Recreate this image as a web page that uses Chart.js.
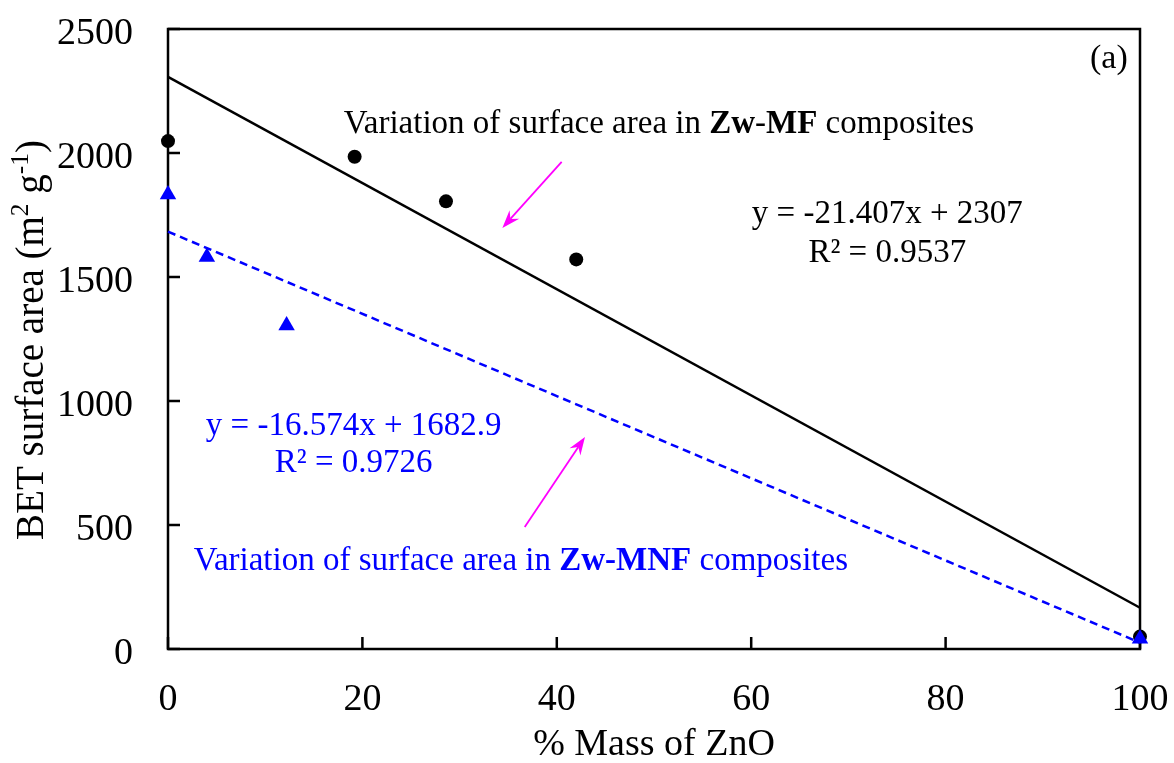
<!DOCTYPE html>
<html>
<head>
<meta charset="utf-8">
<script src="https://cdn.jsdelivr.net/npm/chart.js@4.4.1/dist/chart.umd.min.js"></script>
<style>
html,body{margin:0;padding:0;background:#fff;}
#wrap{width:1174px;height:763px;}
</style>
</head>
<body>
<div id="wrap"><canvas id="c" width="1174" height="763"></canvas></div>
<script>
// ---- data ----
const zwMF_x = [0, 19.2, 28.6, 42.0, 100];
const zwMF_y = [2048, 1985, 1805, 1571, 50];
const zwMNF_x = [0, 4.0, 12.2, 100];
const zwMNF_y = [1833, 1581, 1304, 41];
const trendMF = {slope: -21.407, intercept: 2307};
const trendMNF = {slope: -16.574, intercept: 1682.9};
const trendRange = [0, 100];
const xTicks = [0, 20, 40, 60, 80, 100];
const yTicks = [0, 500, 1000, 1500, 2000, 2500];
const xTitle = '% Mass of ZnO';
const eqMF = ['y = -21.407x + 2307', 'R² = 0.9537'];
const eqMNF = ['y = -16.574x + 1682.9', 'R² = 0.9726'];
const panelLabel = '(a)';

const FONT = '"Liberation Serif", "Times New Roman", serif';

const pts = (xs, ys) => xs.map((x, i) => ({x, y: ys[i]}));
const trendPts = t => trendRange.map(x => ({x, y: t.slope * x + t.intercept}));

function richText(ctx, parts, x, y, align) {
  let total = 0;
  const meas = parts.map(p => {
    const size = p.sup ? p.size * 0.65 : p.size;
    ctx.font = (p.bold ? 'bold ' : '') + size + 'px ' + FONT;
    const w = ctx.measureText(p.t).width;
    total += w;
    return {p, size, w};
  });
  let cx = align === 'center' ? x - total / 2 : (align === 'right' ? x - total : x);
  ctx.textAlign = 'left';
  ctx.textBaseline = 'alphabetic';
  meas.forEach(m => {
    ctx.font = (m.p.bold ? 'bold ' : '') + m.size + 'px ' + FONT;
    ctx.fillText(m.p.t, cx, y - (m.p.sup ? m.p.size * 0.38 : 0));
    cx += m.w;
  });
  return total;
}

function arrow(ctx, x1, y1, x2, y2, color) {
  ctx.save();
  ctx.strokeStyle = color; ctx.fillStyle = color; ctx.lineWidth = 1.8;
  const a = Math.atan2(y2 - y1, x2 - x1);
  const L = 18, W = 6.5, back = 12;
  ctx.beginPath(); ctx.moveTo(x1, y1);
  ctx.lineTo(x2 - Math.cos(a) * back, y2 - Math.sin(a) * back); ctx.stroke();
  ctx.beginPath();
  ctx.moveTo(x2, y2);
  ctx.lineTo(x2 - Math.cos(a) * L - Math.sin(a) * W, y2 - Math.sin(a) * L + Math.cos(a) * W);
  ctx.lineTo(x2 - Math.cos(a) * back, y2 - Math.sin(a) * back);
  ctx.lineTo(x2 - Math.cos(a) * L + Math.sin(a) * W, y2 - Math.sin(a) * L - Math.cos(a) * W);
  ctx.closePath(); ctx.fill();
  ctx.restore();
}

const decor = {
  id: 'decor',
  beforeDatasetsDraw(chart) {
    const {ctx, chartArea: a, scales: {x, y}} = chart;
    ctx.save();
    ctx.strokeStyle = '#000';
    ctx.lineWidth = 2.5;
    ctx.strokeRect(a.left, a.top, a.right - a.left, a.bottom - a.top);
    ctx.beginPath();
    yTicks.forEach(v => { const py = y.getPixelForValue(v); ctx.moveTo(a.left, py); ctx.lineTo(a.left + 12, py); });
    xTicks.forEach(v => { const px = x.getPixelForValue(v); ctx.moveTo(px, a.bottom); ctx.lineTo(px, a.bottom - 12); });
    ctx.stroke();
    // tick labels
    ctx.fillStyle = '#000';
    ctx.font = '38px ' + FONT;
    ctx.textBaseline = 'alphabetic';
    ctx.textAlign = 'right';
    yTicks.forEach(v => ctx.fillText(String(v), a.left - 35, y.getPixelForValue(v) + 15));
    ctx.textAlign = 'center';
    xTicks.forEach(v => ctx.fillText(String(v), x.getPixelForValue(v), a.bottom + 61));
    ctx.restore();
  },
  afterDatasetsDraw(chart) {
    const {ctx, chartArea: a, scales: {x, y}} = chart;
    const X = v => x.getPixelForValue(v), Y = v => y.getPixelForValue(v);
    ctx.save();
    // axis titles
    ctx.fillStyle = '#000';
    ctx.font = '38px ' + FONT;
    ctx.textAlign = 'center'; ctx.textBaseline = 'alphabetic';
    ctx.fillText(xTitle, (a.left + a.right) / 2, 755);
    ctx.save();
    ctx.translate(43, 340);
    ctx.rotate(-Math.PI / 2);
    richText(ctx, [
      {t: 'BET surface area (m', size: 39},
      {t: '2', size: 39, sup: true},
      {t: ' g', size: 39},
      {t: '-1', size: 39, sup: true},
      {t: ')', size: 39}
    ], 0, 0, 'center');
    ctx.restore();

    // panel label
    ctx.fillStyle = '#000';
    richText(ctx, [{t: panelLabel, size: 34}], X(96.8), Y(2343), 'center');

    // MF annotation (black)
    richText(ctx, [
      {t: 'Variation of surface area in ', size: 33},
      {t: 'Zw', size: 33, bold: true},
      {t: '-', size: 33},
      {t: 'MF', size: 33, bold: true},
      {t: ' composites', size: 33}
    ], X(50.5), Y(2081), 'center');
    richText(ctx, [{t: eqMF[0], size: 33}], X(74.0), Y(1718), 'center');
    richText(ctx, [{t: eqMF[1], size: 33}], X(74.0), Y(1560), 'center');

    // MNF annotation (blue)
    ctx.fillStyle = '#0000FF';
    richText(ctx, [{t: eqMNF[0], size: 33}], X(19.1), Y(863), 'center');
    richText(ctx, [{t: eqMNF[1], size: 33}], X(19.1), Y(714), 'center');
    richText(ctx, [
      {t: 'Variation of surface area in ', size: 33},
      {t: 'Zw-MNF', size: 33, bold: true},
      {t: ' composites', size: 33}
    ], X(36.3), Y(319), 'center');

    // arrows
    arrow(ctx, X(40.5), Y(1964), X(34.4), Y(1698), '#FF00FF');
    arrow(ctx, X(36.7), Y(492), X(42.9), Y(855), '#FF00FF');
    ctx.restore();
  }
};

new Chart(document.getElementById('c'), {
  type: 'scatter',
  data: {
    datasets: [
      {
        label: 'Zw-MF trend', data: trendPts(trendMF), showLine: true,
        borderColor: '#000', borderWidth: 2.5, pointRadius: 0, fill: false, order: 3
      },
      {
        label: 'Zw-MNF trend', data: trendPts(trendMNF), showLine: true,
        borderColor: '#0000FF', borderWidth: 2.5, borderDash: [8, 5], pointRadius: 0, fill: false, order: 2
      },
      {
        label: 'Zw-MF', data: pts(zwMF_x, zwMF_y), pointStyle: 'circle', pointRadius: 7,
        backgroundColor: '#000', borderColor: '#000', borderWidth: 0, order: 1
      },
      {
        label: 'Zw-MNF', data: pts(zwMNF_x, zwMNF_y), pointStyle: 'triangle', pointRadius: 9.5,
        backgroundColor: '#0000FF', borderColor: '#0000FF', borderWidth: 0, order: 0
      }
    ]
  },
  options: {
    responsive: false,
    animation: false,
    devicePixelRatio: 1,
    clip: false,
    layout: {padding: {top: 29, right: 34, left: 0, bottom: 0}},
    plugins: {legend: {display: false}, tooltip: {enabled: false}},
    scales: {
      x: {
        type: 'linear', min: 0, max: 100,
        grid: {display: false, drawTicks: false},
        border: {display: false},
        afterBuildTicks: s => { s.ticks = xTicks.map(v => ({value: v})); },
        ticks: {display: false},
        afterFit: s => { s.height = 114; }
      },
      y: {
        type: 'linear', min: 0, max: 2500,
        grid: {display: false, drawTicks: false},
        border: {display: false},
        afterBuildTicks: s => { s.ticks = yTicks.map(v => ({value: v})); },
        ticks: {display: false},
        afterFit: s => { s.width = 168; }
      }
    }
  },
  plugins: [decor]
});
</script>
</body>
</html>
